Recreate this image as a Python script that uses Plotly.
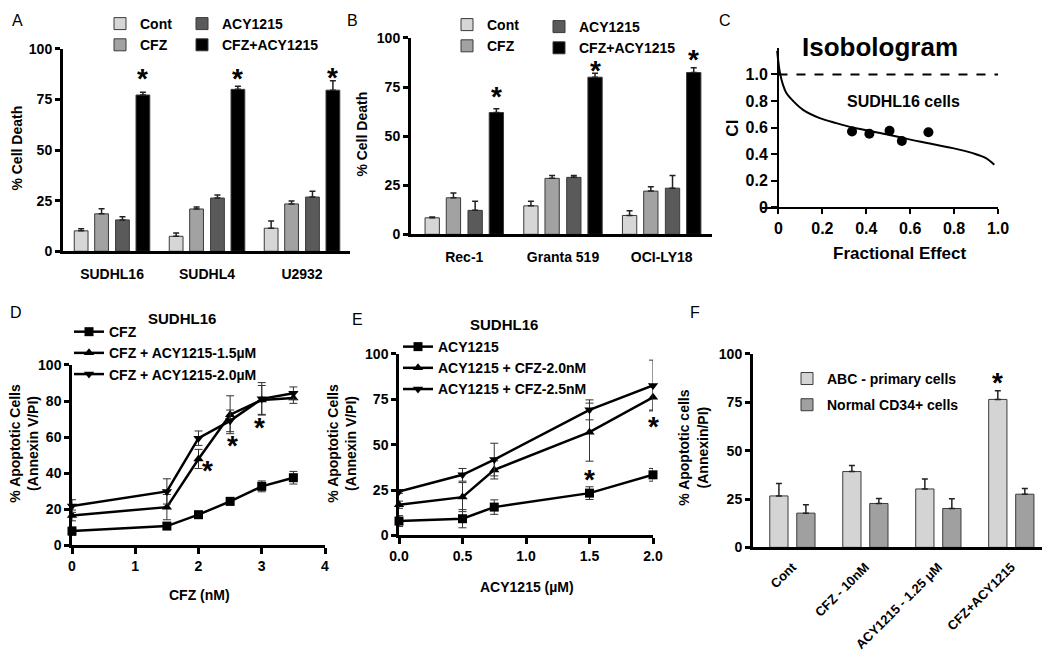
import plotly.graph_objects as go

W, H = 1050, 663
OFF = 8  # page body margin in the browser


def fx(p):
    return (p - OFF) / W


def fy(p):
    return 1 - (p - OFF) / H


FONT = "Liberation Sans, Arial, sans-serif"
NARROW = "Liberation Sans Narrow, Arial Narrow, Liberation Sans, sans-serif"

# ---- data ----
treatments = ["Cont", "CFZ", "ACY1215", "CFZ+ACY1215"]
bar_colors = ["#d6d6d6", "#a2a2a2", "#5a5a5a", "#000000"]

a_lines = ["SUDHL16", "SUDHL4", "U2932"]
a_vals = [[10.1, 7.4, 11.4], [18.5, 20.9, 23.4], [15.5, 26.3, 26.8], [77.2, 80.0, 79.6]]
a_errs = [[1.0, 1.6, 3.5], [2.5, 1.0, 1.4], [1.5, 1.5, 2.9], [1.4, 1.5, 4.7]]
a_star = [88, 88, 88.5]

b_lines = ["Rec-1", "Granta 519", "OCI-LY18"]
b_vals = [[8.4, 14.5, 9.6], [18.6, 28.5, 22.0], [12.2, 29.0, 23.5], [62.0, 80.0, 82.4]]
b_errs = [[0.4, 2.4, 2.4], [2.5, 1.5, 2.2], [4.7, 1.0, 6.5], [1.9, 2.0, 2.4]]
b_star = [72.5, 86, 91.5]

# isobologram
c_curve_fa = [-0.006, 0.006, 0.021, 0.036, 0.067, 0.112, 0.188, 0.264, 0.339, 0.491, 0.642, 0.794, 0.885, 0.945, 0.983]
c_curve_ci = [1.178, 1.02, 0.92, 0.86, 0.80, 0.734, 0.672, 0.634, 0.601, 0.551, 0.496, 0.446, 0.408, 0.371, 0.321]
c_pts_fa = [0.335, 0.414, 0.506, 0.562, 0.683]
c_pts_ci = [0.571, 0.554, 0.576, 0.50, 0.566]
c_ref_fa = [0, 1.0]
c_ref_ci = [1.0, 1.0]

d_x = [0, 1.5, 2, 2.5, 3, 3.5]
d_names = ["CFZ", "CFZ + ACY1215-1.5µM", "CFZ + ACY1215-2.0µM"]
d_vals = [[7.9, 10.7, 17.0, 24.4, 32.7, 37.5],
          [16.6, 21.2, 47.9, 72.4, 80.6, 81.7],
          [21.8, 29.9, 59.4, 69.0, 81.2, 84.3]]
d_errs = [[2.3, 1.0, 1.0, 2.0, 3.0, 3.5],
          [3.0, 7.0, 5.3, 10.5, 8.0, 3.0],
          [3.5, 7.0, 4.0, 6.0, 9.0, 3.5]]
d_star_x = [2.15, 2.53, 2.96]
d_star_y = [44, 58, 68]

e_x = [0, 0.5, 0.75, 1.5, 2.0]
e_names = ["ACY1215", "ACY1215 + CFZ-2.0nM", "ACY1215 + CFZ-2.5nM"]
e_vals = [[7.9, 9.2, 15.6, 23.3, 33.4],
          [16.9, 21.1, 36.1, 56.9, 76.1],
          [24.2, 33.4, 41.8, 69.2, 82.6]]
e_errs = [[3.0, 5.0, 4.0, 3.5, 3.5],
          [2.0, 8.0, 5.0, 16.0, 7.0],
          [1.0, 3.5, 9.0, 5.5, 14.0]]
e_star_x = [1.5, 2.0]
e_star_y = [33.6, 63]

f_groups = ["Cont", "CFZ - 10nM", "ACY1215 - 1.25 μM", "CFZ+ACY1215"]
f_names = ["ABC - primary cells", "Normal CD34+ cells"]
f_vals = [[26.6, 39.2, 30.2, 76.5], [17.7, 22.7, 20.1, 27.5]]
f_errs = [[6.4, 3.1, 5.2, 4.5], [4.3, 2.6, 5.0, 3.0]]
f_colors = ["#d4d4d4", "#a0a0a0"]
f_star = 88

fig = go.Figure()


def err_up(e):
    return dict(type="data", array=e, arrayminus=[0] * len(e), symmetric=False,
                color="#222", thickness=1.5, width=3)


# A and B bars
a_off = [-0.325, -0.11, 0.11, 0.325]
for i, t in enumerate(treatments):
    fig.add_trace(go.Bar(x=a_lines, y=a_vals[i], name=t, xaxis="x", yaxis="y",
                         width=0.145, offset=a_off[i] - 0.0725,
                         marker=dict(color=bar_colors[i], line=dict(color="#3a3a3a", width=1)),
                         error_y=err_up(a_errs[i]),
                         legend="legend" if i in (0, 1) else "legend2"))
for i, t in enumerate(treatments):
    fig.add_trace(go.Bar(x=b_lines, y=b_vals[i], name=t, xaxis="x2", yaxis="y2",
                         width=0.145, offset=a_off[i] - 0.0725,
                         marker=dict(color=bar_colors[i], line=dict(color="#3a3a3a", width=1)),
                         error_y=err_up(b_errs[i]),
                         legend="legend3" if i in (0, 1) else "legend4"))

# C isobologram
fig.add_trace(go.Scatter(x=c_ref_fa, y=c_ref_ci, mode="lines", xaxis="x3", yaxis="y3",
                         line=dict(color="black", width=2, dash="dash"), showlegend=False))
fig.add_trace(go.Scatter(x=c_curve_fa, y=c_curve_ci, mode="lines", xaxis="x3", yaxis="y3",
                         line=dict(color="black", width=2, shape="spline"), showlegend=False))
fig.add_trace(go.Scatter(x=c_pts_fa, y=c_pts_ci, mode="markers", xaxis="x3", yaxis="y3",
                         marker=dict(color="black", size=10), showlegend=False))

symbols = ["square", "triangle-up", "triangle-down"]
for i, n in enumerate(d_names):
    fig.add_trace(go.Scatter(x=d_x, y=d_vals[i], name=n, mode="lines+markers",
                             xaxis="x4", yaxis="y4", cliponaxis=False,
                             line=dict(color="black", width=2.5),
                             marker=dict(symbol=symbols[i], size=9, color="black"),
                             error_y=dict(type="data", array=d_errs[i], color="#333",
                                          thickness=1, width=4),
                             legend="legend5"))
for i, n in enumerate(e_names):
    fig.add_trace(go.Scatter(x=e_x, y=e_vals[i], name=n, mode="lines+markers",
                             xaxis="x5", yaxis="y5", cliponaxis=False,
                             line=dict(color="black", width=2.5),
                             marker=dict(symbol=symbols[i], size=9, color="black"),
                             error_y=dict(type="data", array=e_errs[i], color="#333",
                                          thickness=1, width=4),
                             legend="legend6"))

f_off = [-0.185, 0.185]
for i, n in enumerate(f_names):
    fig.add_trace(go.Bar(x=f_groups, y=f_vals[i], name=n, xaxis="x6", yaxis="y6",
                         width=0.25, offset=f_off[i] - 0.125,
                         marker=dict(color=f_colors[i], line=dict(color="#3a3a3a", width=1)),
                         error_y=err_up(f_errs[i]), legendgroup=n,
                         legend="legend7"))

tick_font = dict(family=FONT, size=14, color="black", weight="bold")
ax_common = dict(showline=True, linecolor="black", showgrid=False, zeroline=False,
                 tickfont=tick_font, tickcolor="black", automargin=False)
narrow_font = dict(family=NARROW, size=16, color="black", weight="bold")

layout = dict(
    template="none",
    width=W, height=H, margin=dict(l=0, r=0, t=0, b=0, pad=0),
    plot_bgcolor="white", paper_bgcolor="white", barmode="overlay",
    font=dict(family=FONT, color="black"),
    # A
    xaxis=dict(domain=[fx(63), fx(350)], range=[-0.516, 2.505], anchor="y",
               ticks="", ticklabelstandoff=8, linewidth=3, **ax_common),
    yaxis=dict(domain=[fy(250), fy(47)], range=[0, 100], anchor="x", tickvals=[0, 25, 50, 75, 100],
               ticks="outside", ticklen=5, tickwidth=2.5, linewidth=3, **ax_common),
    # B
    xaxis2=dict(domain=[fx(411), fx(712)], range=[-0.54, 2.51], anchor="y2",
                ticks="", ticklabelstandoff=8, linewidth=3, **ax_common),
    yaxis2=dict(domain=[fy(233), fy(36)], range=[0, 100], anchor="x2", tickvals=[0, 25, 50, 75, 100],
                ticks="outside", ticklen=5, tickwidth=2.5, linewidth=3, **ax_common),
    # C
    xaxis3=dict(domain=[fx(762), fx(998)], range=[-0.075, 1.0], anchor="y3",
                tickvals=[0, 0.2, 0.4, 0.6, 0.8, 1.0], ticktext=["0", "0.2", "0.4", "0.6", "0.8", "1.0"],
                ticks="outside", ticklen=5, tickwidth=2, linewidth=2, automargin=False,
                showline=True, linecolor="black", showgrid=False, zeroline=False, tickcolor="black",
                tickfont=narrow_font),
    yaxis3=dict(domain=[fy(206), fy(46)], range=[0, 1.2], anchor="free", position=fx(778),
                tickvals=[0, 0.2, 0.4, 0.6, 0.8, 1.0], ticktext=["0", "0.2", "0.4", "0.6", "0.8", "1.0"],
                ticks="outside", ticklen=6, tickwidth=2, linewidth=2, automargin=False,
                showline=True, linecolor="black", showgrid=False, zeroline=False, tickcolor="black",
                tickfont=narrow_font),
    # D
    xaxis4=dict(domain=[fx(72), fx(325)], range=[0, 4], anchor="y4", dtick=1,
                ticks="outside", ticklen=6, tickwidth=2.5, linewidth=2.5, **ax_common),
    yaxis4=dict(domain=[fy(545), fy(364)], range=[0, 100], anchor="x4", dtick=20,
                ticks="outside", ticklen=5, tickwidth=2.5, linewidth=2.5, **ax_common),
    # E
    xaxis5=dict(domain=[fx(399), fx(653)], range=[0, 2.0], anchor="y5", dtick=0.5, tickformat=".1f",
                ticks="outside", ticklen=6, tickwidth=2.5, linewidth=2.5, **ax_common),
    yaxis5=dict(domain=[fy(535), fy(353)], range=[0, 100], anchor="x5", dtick=25,
                ticks="outside", ticklen=5, tickwidth=2.5, linewidth=2.5, **ax_common),
    # F
    xaxis6=dict(domain=[fx(753), fx(1050)], range=[-0.54, 3.53], anchor="y6", tickangle=-45,
                ticks="", ticklabelstandoff=4, linewidth=3, automargin=False,
                showline=True, linecolor="black", showgrid=False, zeroline=False,
                tickfont=dict(family=FONT, size=13, color="black", weight="bold")),
    yaxis6=dict(domain=[fy(547), fy(353)], range=[0, 100], anchor="x6", dtick=25,
                ticks="outside", ticklen=5, tickwidth=2.5, linewidth=3, **ax_common),
)

leg_font = dict(family=FONT, size=14, color="black", weight="bold")


def leg(x, y, gap=0):
    return dict(x=fx(x), y=fy(y), xanchor="left", yanchor="top", bgcolor="rgba(0,0,0,0)",
                font=leg_font, tracegroupgap=gap, itemclick=False, borderwidth=0)


layout["legend"] = leg(100, 6)
layout["legend2"] = leg(182, 6)
layout["legend3"] = leg(447, 7)
layout["legend4"] = leg(539, 9)
layout["legend5"] = leg(69, 315)
layout["legend6"] = leg(398, 330)
layout["legend7"] = leg(787, 362, gap=5)

fig.update_layout(**layout)

# annotations: stars, axis titles, panel letters
star_font = dict(size=28, family=FONT, color="black", weight="bold")
ann = []
for i, s in enumerate(a_star):
    ann.append(dict(x=i + 0.325, y=s, xref="x", yref="y", text="*", showarrow=False,
                    font=star_font, yshift=-5))
for i, s in enumerate(b_star):
    ann.append(dict(x=i + 0.325, y=s, xref="x2", yref="y2", text="*", showarrow=False,
                    font=star_font, yshift=-5))
for xs, ys in zip(d_star_x, d_star_y):
    ann.append(dict(x=xs, y=ys, xref="x4", yref="y4", text="*", showarrow=False,
                    font=star_font, yshift=-5))
for xs, ys in zip(e_star_x, e_star_y):
    ann.append(dict(x=xs, y=ys, xref="x5", yref="y5", text="*", showarrow=False,
                    font=star_font, yshift=-5))
ann.append(dict(x=3 - 0.185, y=f_star, xref="x6", yref="y6", text="*", showarrow=False,
                font=star_font, yshift=-5))

ann.append(dict(x=0.568, y=0.797, xref="x3", yref="y3", text="SUDHL16 cells", showarrow=False,
                font=narrow_font))


def text(x, y, s, size=14, angle=0, bold=True, fam=FONT):
    ann.append(dict(x=fx(x), y=fy(y), xref="paper", yref="paper", text=s, showarrow=False,
                    textangle=angle, xanchor="center", yanchor="middle",
                    font=dict(family=fam, size=size, color="black",
                              weight="bold" if bold else "normal")))


text(17, 147, "% Cell Death", angle=-90)
text(362, 133, "% Cell Death", angle=-90)
text(880, 45, "Isobologram", size=26, fam=NARROW)
text(733, 127, "CI", size=17, angle=-90, fam=NARROW)
text(900, 252, "Fractional Effect", size=17, fam=NARROW)
text(24, 443, "% Apoptotic Cells<br>(Annexin V/PI)", angle=-90)
text(199, 595, "CFZ (nM)")
text(182, 317, "SUDHL16", size=15)
text(342, 443, "% Apoptotic Cells<br>(Annexin V/PI)", angle=-90)
text(527, 587, "ACY1215 (µM)")
text(504, 323, "SUDHL16", size=15)
text(693, 447, "% Apoptotic cells<br>(Annexin/PI)", angle=-90)

for x, y, s in [(17, 19, "A"), (352, 19, "B"), (725, 19, "C"),
                (16, 311, "D"), (357, 318, "E"), (695, 311, "F")]:
    text(x, y, s, size=16, bold=False)

fig.update_layout(annotations=ann)
fig.write_html("out.html")
